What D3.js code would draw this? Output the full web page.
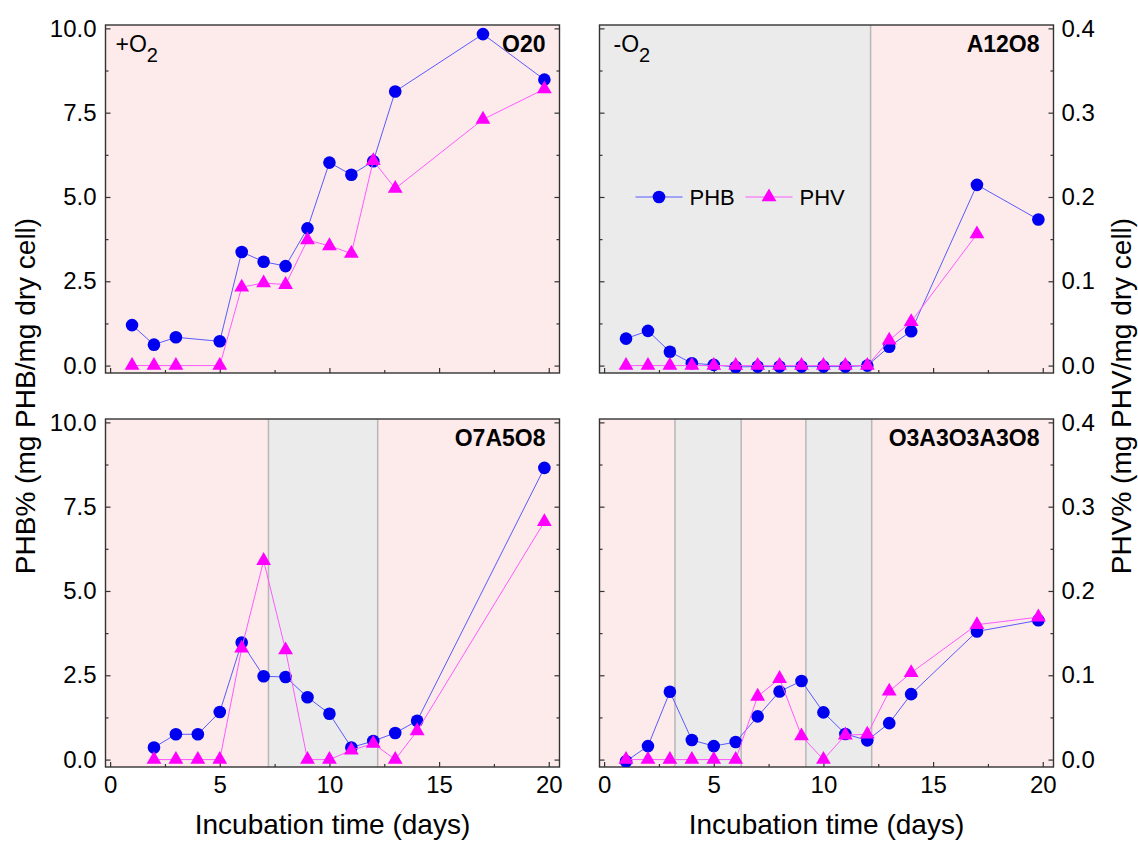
<!DOCTYPE html>
<html>
<head>
<meta charset="utf-8">
<script src="https://cdn.jsdelivr.net/npm/d3@7"></script>
<style>
  body { margin: 0; background: #fff; }
  svg { display: block; font-family: "Liberation Sans", Arial, sans-serif; }
</style>
</head>
<body>
<div id="wrapper"></div>
<script>
// ---- data ----
// O20 : aerobic the whole time
const o20Days = [1, 2, 3, 5, 6, 7, 8, 9, 10, 11, 12, 13, 17, 19.8];
const o20PHB  = [1.2, 0.62, 0.84, 0.72, 3.37, 3.08, 2.95, 4.07, 6.02, 5.66, 6.06, 8.13, 9.83, 8.48];
const o20PHV  = [0, 0, 0, 0, 0.093, 0.098, 0.096, 0.149, 0.142, 0.133, 0.243, 0.21, 0.292, 0.328];
const o20Anoxic = [];

// A12O8 : anoxic 12 days then aerobic
const a12Days = [1, 2, 3, 4, 5, 6, 7, 8, 9, 10, 11, 12, 13, 14, 17, 19.8];
const a12PHB  = [0.8, 1.03, 0.41, 0.07, 0.02, -0.04, -0.03, -0.03, -0.03, -0.03, -0.03, 0, 0.56, 1.02, 5.36, 4.33];
const a12PHV  = [0, 0, 0, 0, 0, 0, 0, 0, 0, 0, 0, 0, 0.03, 0.052, 0.156, null];
const a12Anoxic = [[-1, 12.15]];

// O7A5O8
const o7Days = [2, 3, 4, 5, 6, 7, 8, 9, 10, 11, 12, 13, 14, 19.8];
const o7PHB  = [0.36, 0.75, 0.75, 1.41, 3.47, 2.47, 2.45, 1.85, 1.36, 0.36, 0.55, 0.79, 1.15, 8.65];
const o7PHV  = [0, 0, 0, 0, 0.132, 0.236, 0.13, 0, 0, 0.011, 0.019, 0, 0.034, 0.282];
const o7Anoxic = [[7.22, 12.2]];

// O3A3O3A3O8
const o3Days = [1, 2, 3, 4, 5, 6, 7, 8, 9, 10, 11, 12, 13, 14, 17, 19.8];
const o3PHB  = [-0.05, 0.4, 2.01, 0.58, 0.4, 0.52, 1.28, 2.02, 2.33, 1.4, 0.76, 0.57, 1.08, 1.94, 3.8, 4.13];
const o3PHV  = [0, 0, 0, 0, 0, 0, 0.075, 0.096, 0.028, 0, 0.029, 0.03, 0.081, 0.103, 0.16, 0.169];
const o3Anoxic = [[3.23, 6.25], [9.2, 12.2]];

// ticks
const xTicks = [0, 5, 10, 15, 20];
const xMinor = [2.5, 7.5, 12.5, 17.5];
const phbTicks = [0, 2.5, 5, 7.5, 10];
const phbMinor = [1.25, 3.75, 6.25, 8.75];
const phvTicks = [0, 0.1, 0.2, 0.3, 0.4];

const panels = [
    { name: "O20",        tag: "+", days: o20Days, phb: o20PHB, phv: o20PHV, anoxic: o20Anoxic, col: 0, row: 0 },
    { name: "A12O8",      tag: "-", days: a12Days, phb: a12PHB, phv: a12PHV, anoxic: a12Anoxic, col: 1, row: 0 },
    { name: "O7A5O8",     tag: null, days: o7Days, phb: o7PHB, phv: o7PHV, anoxic: o7Anoxic, col: 0, row: 1 },
    { name: "O3A3O3A3O8", tag: null, days: o3Days, phb: o3PHB, phv: o3PHV, anoxic: o3Anoxic, col: 1, row: 1 },
];

function drawChart() {
    let dimensions = {
        width: 1138,
        height: 841,
        panelWidth: 454,
        panelHeight: 348,
        lefts: [105.5, 599.5],
        tops: [25, 419],
    };

    const wrapper = d3.select("#wrapper")
        .append("svg")
        .attr("width", dimensions.width)
        .attr("height", dimensions.height);

    // scales shared by all four panels
    const xScale = d3.scaleLinear()
        .domain([-0.21, 20.49])
        .range([0, dimensions.panelWidth]);

    const yScale = d3.scaleLinear()
        .domain([-0.22, 10.1])
        .range([dimensions.panelHeight, 0]);

    // PHV axis: 0.4 sits where PHB 10 sits
    const yRightScale = d3.scaleLinear()
        .domain([-0.22 / 25, 10.1 / 25])
        .range([dimensions.panelHeight, 0]);

    const phbLine = d3.line()
        .defined(d => d.v !== null)
        .x(d => xScale(d.x))
        .y(d => yScale(d.v));

    const phvLine = d3.line()
        .defined(d => d.v !== null)
        .x(d => xScale(d.x))
        .y(d => yRightScale(d.v));

    const triangle = d3.symbol().type(d3.symbolTriangle).size(95);

    panels.forEach((p, i) => {
        const bounds = wrapper.append("g")
            .attr("transform", `translate(${dimensions.lefts[p.col]}, ${dimensions.tops[p.row]})`);

        const clipId = "clip" + i;
        bounds.append("clipPath").attr("id", clipId)
            .append("rect")
            .attr("width", dimensions.panelWidth)
            .attr("height", dimensions.panelHeight);

        // background: pink = aerobic, grey = anoxic
        bounds.append("rect")
            .attr("width", dimensions.panelWidth)
            .attr("height", dimensions.panelHeight)
            .attr("fill", "#fdeaea");

        const shade = bounds.append("g").attr("clip-path", `url(#${clipId})`);
        p.anoxic.forEach(([a, b]) => {
            shade.append("rect")
                .attr("x", xScale(a))
                .attr("width", xScale(b) - xScale(a))
                .attr("height", dimensions.panelHeight)
                .attr("fill", "#ebebeb");
            [a, b].forEach(edge => {
                shade.append("line")
                    .attr("x1", xScale(edge)).attr("x2", xScale(edge))
                    .attr("y1", 0).attr("y2", dimensions.panelHeight)
                    .attr("stroke", "#b8b8b8")
                    .attr("stroke-width", 1.5);
            });
        });

        // axes, ticks point inwards
        const showX = p.row === 1;
        bounds.append("g")
            .attr("transform", `translate(0, ${dimensions.panelHeight})`)
            .call(d3.axisBottom(xScale).tickValues(xTicks).tickSize(-5).tickPadding(9)
                .tickFormat(showX ? d3.format("d") : () => ""));
        bounds.append("g")
            .attr("transform", `translate(0, ${dimensions.panelHeight})`)
            .call(d3.axisBottom(xScale).tickValues(xMinor).tickSize(-3).tickFormat(() => ""));

        const showLeft = p.col === 0;
        bounds.append("g")
            .call(d3.axisLeft(yScale).tickValues(phbTicks).tickSize(-5).tickPadding(9)
                .tickFormat(showLeft ? d3.format(".1f") : () => ""));
        bounds.append("g")
            .call(d3.axisLeft(yScale).tickValues(phbMinor).tickSize(-3).tickFormat(() => ""));

        const showRight = p.col === 1;
        bounds.append("g")
            .attr("transform", `translate(${dimensions.panelWidth}, 0)`)
            .call(d3.axisRight(yRightScale).tickValues(phvTicks).tickSize(-5).tickPadding(8)
                .tickFormat(showRight ? d3.format(".1f") : () => ""));
        bounds.append("g")
            .attr("transform", `translate(${dimensions.panelWidth}, 0)`)
            .call(d3.axisRight(yScale).tickValues(phbMinor).tickSize(-3).tickFormat(() => ""));

        bounds.selectAll(".domain").remove();
        bounds.selectAll(".tick line").attr("stroke", "#333").attr("stroke-width", 1.2);
        bounds.selectAll(".tick text")
            .attr("fill", "#000")
            .style("font-size", "24px")
            .style("font-family", "'Liberation Sans', Arial, sans-serif");

        // frame
        bounds.append("rect")
            .attr("width", dimensions.panelWidth)
            .attr("height", dimensions.panelHeight)
            .attr("fill", "none")
            .attr("stroke", "#333")
            .attr("stroke-width", 1.4);

        // data
        const phbData = p.days.map((x, k) => ({ x: x, v: p.phb[k] }));
        const phvData = p.days.map((x, k) => ({ x: x, v: p.phv[k] }));

        const marks = bounds.append("g").attr("clip-path", `url(#${clipId})`);
        marks.append("path")
            .datum(phbData)
            .attr("d", phbLine)
            .attr("fill", "none")
            .attr("stroke", "#5a5aff")
            .attr("stroke-width", 1);
        marks.selectAll("circle")
            .data(phbData)
            .enter().append("circle")
            .attr("cx", d => xScale(d.x))
            .attr("cy", d => yScale(d.v))
            .attr("r", 6.3)
            .attr("fill", "#0000f0");

        marks.append("path")
            .datum(phvData)
            .attr("d", phvLine)
            .attr("fill", "none")
            .attr("stroke", "#ff5aff")
            .attr("stroke-width", 1);
        marks.selectAll(".tri")
            .data(phvData.filter(d => d.v !== null))
            .enter().append("path")
            .attr("class", "tri")
            .attr("d", triangle)
            .attr("transform", d => `translate(${xScale(d.x)}, ${yRightScale(d.v)})`)
            .attr("fill", "#ff00ff");

        // panel name, top right
        bounds.append("text")
            .attr("x", dimensions.panelWidth - 14)
            .attr("y", 27)
            .attr("text-anchor", "end")
            .style("font-size", "23px")
            .style("font-weight", "bold")
            .text(p.name);

        // +O2 / -O2
        if (p.tag) {
            const tag = bounds.append("text")
                .attr("x", p.tag === "+" ? 10 : 14)
                .attr("y", 27)
                .style("font-size", "23px");
            tag.append("tspan").text(p.tag + "O");
            tag.append("tspan").attr("dy", 10).style("font-size", "20px").text("2");
        }

        // legend sits in the A12O8 panel
        if (p.name === "A12O8") {
            const legend = bounds.append("g").attr("transform", "translate(0, 172)");
            legend.append("line")
                .attr("x1", 36).attr("x2", 83)
                .attr("stroke", "#5a5aff").attr("stroke-width", 1);
            legend.append("circle").attr("cx", 59.5).attr("r", 6.3).attr("fill", "#0000f0");
            legend.append("text").attr("x", 90).attr("y", 8)
                .style("font-size", "22px").text("PHB");
            legend.append("line")
                .attr("x1", 146).attr("x2", 193)
                .attr("stroke", "#ff5aff").attr("stroke-width", 1);
            legend.append("path").attr("d", triangle)
                .attr("transform", "translate(169.5, 0)").attr("fill", "#ff00ff");
            legend.append("text").attr("x", 200).attr("y", 8)
                .style("font-size", "22px").text("PHV");
        }

        // x axis title under the bottom row
        if (showX) {
            bounds.append("text")
                .attr("x", dimensions.panelWidth / 2)
                .attr("y", 415)
                .attr("text-anchor", "middle")
                .style("font-size", "28px")
                .text("Incubation time (days)");
        }
    });

    // y axis titles
    const midY = (dimensions.tops[0] + dimensions.tops[1] + dimensions.panelHeight) / 2;
    wrapper.append("text")
        .attr("transform", `translate(35, ${midY}) rotate(-90)`)
        .attr("text-anchor", "middle")
        .style("font-size", "28px")
        .text("PHB% (mg PHB/mg dry cell)");

    wrapper.append("text")
        .attr("transform", `translate(1131, ${midY}) rotate(-90)`)
        .attr("text-anchor", "middle")
        .style("font-size", "28px")
        .text("PHV% (mg PHV/mg dry cell)");
}

drawChart();
</script>
</body>
</html>
